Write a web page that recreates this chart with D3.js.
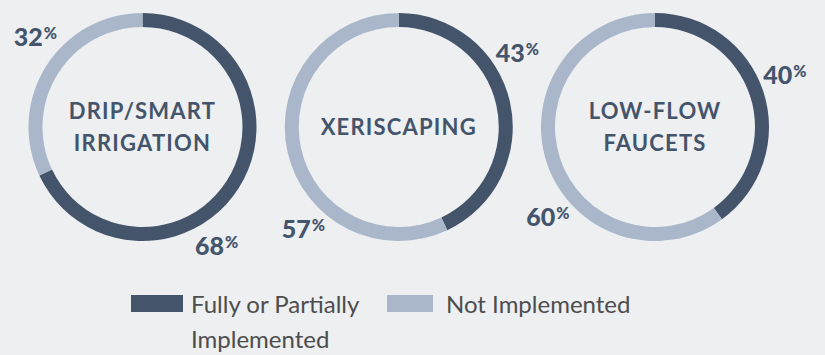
<!DOCTYPE html>
<html>
<head>
<meta charset="utf-8">
<script src="https://cdn.jsdelivr.net/npm/d3@7"></script>
<style>
  html, body { margin: 0; padding: 0; background: #edeff1; }
  svg { display: block; }
</style>
</head>
<body>
<div id="chart"></div>
<script>
(function(){
  "use strict";

  // data
  var practices = [["DRIP/SMART", "IRRIGATION"], ["XERISCAPING"], ["LOW-FLOW", "FAUCETS"]];
  var implemented = [68, 43, 40];
  var notImplemented = [32, 57, 60];
  var legendLabels = [["Fully or Partially", "Implemented"], ["Not Implemented"]];

  // layout: where each percent label sits around its ring (degrees, clockwise from top)
  var labelAngles = [[148, 310], [58, 223], [68, 230]];

  var width = 825, height = 355;
  var colors = ["#44546b", "#aab7ca"];
  var dark = "#44546b";

  var svg = d3.select("#chart").append("svg")
      .attr("width", width)
      .attr("height", height);

  var x = d3.scalePoint()
      .domain(d3.range(practices.length))
      .range([142.5, 655]);

  var pie = d3.pie().sort(null).value(function(d){ return d; });
  var arc = d3.arc().innerRadius(100).outerRadius(114);
  var labelR = 140;

  practices.forEach(function(name, i){
    var g = svg.append("g").attr("transform", "translate(" + x(i) + ",127)");
    var vals = [implemented[i], notImplemented[i]];

    g.selectAll("path")
      .data(pie(vals))
      .enter().append("path")
      .attr("d", arc)
      .attr("fill", function(d, j){ return colors[j]; });

    // center title
    var t = g.append("text")
      .attr("text-anchor", "middle")
      .attr("fill", dark)
      .style("font-family", "Lato, sans-serif")
      .style("font-weight", 700)
      .style("font-size", "22px")
      .style("letter-spacing", "1.2px");
    var lh = 32;
    var y0 = 2 + 6 - (name.length - 1) * lh / 2;
    name.forEach(function(line, k){
      t.append("tspan").attr("x", 0).attr("y", y0 + k * lh).text(line);
    });

    // percent labels
    vals.forEach(function(v, j){
      var a = labelAngles[i][j] * Math.PI / 180;
      var lx = labelR * Math.sin(a), ly = -labelR * Math.cos(a);
      var lt = g.append("text")
        .attr("x", lx)
        .attr("y", ly + 9)
        .attr("text-anchor", "middle")
        .attr("fill", dark)
        .style("font-family", "Lato, sans-serif")
        .style("font-weight", 900);
      lt.append("tspan").style("font-size", "25px").text(v);
      lt.append("tspan").style("font-size", "16px").attr("dx", 1).attr("dy", -7).text("%");
    });
  });

  // legend
  var legX = [131, 387];
  legendLabels.forEach(function(lines, i){
    svg.append("rect")
      .attr("x", legX[i]).attr("y", 295)
      .attr("width", i === 0 ? 52 : 46).attr("height", 17)
      .attr("fill", colors[i]);
    var t = svg.append("text")
      .attr("fill", "#4d4d4d")
      .style("font-family", "Lato, sans-serif")
      .style("font-size", "24px");
    lines.forEach(function(line, k){
      t.append("tspan").attr("x", legX[i] + (i === 0 ? 60 : 59)).attr("y", 313 + k * 35).text(line);
    });
  });
})();
</script>
</body>
</html>
